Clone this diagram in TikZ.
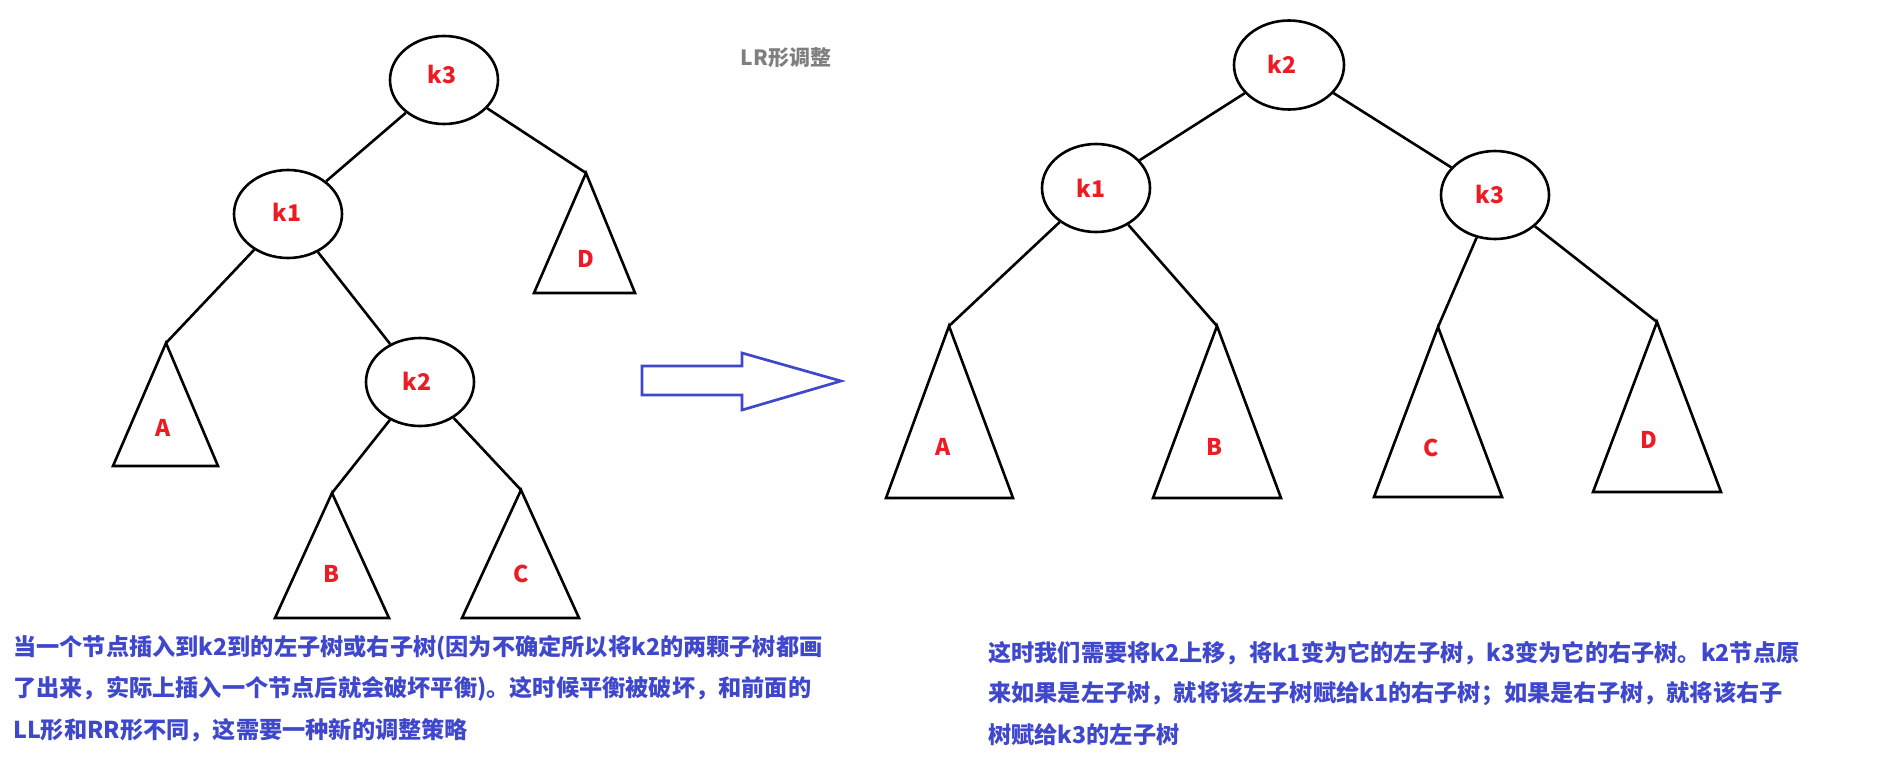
\documentclass[tikz,border=0pt]{standalone}
\usepackage{fontspec}
\usetikzlibrary{shapes.geometric}
\newfontfamily\cjk{Noto Sans CJK SC}
\definecolor{pred}{HTML}{ED1C24}
\definecolor{pblue}{HTML}{3F48CC}
\definecolor{pgray}{HTML}{7F7F7F}
\tikzset{
  tnode/.style={ellipse, draw=black, line width=2.6pt, minimum width=108pt, minimum height=88pt, inner sep=0pt},
  lab/.style={text=pred, inner sep=0pt, font=\cjk\bfseries\fontsize{23}{23}\selectfont},
  edge/.style={draw=black, line width=2.6pt},
  tri/.style={draw=black, line width=2.6pt, line join=miter},
  body/.style={text=pblue, anchor=west, inner sep=0pt, font=\cjk\bfseries\fontsize{23.2}{23.2}\selectfont},
}
\begin{document}
\begin{tikzpicture}[x=1pt,y=-1pt]
\useasboundingbox[fill=white] (0,0) rectangle (1897,773);

% ---------- left tree ----------
\node[tnode] (Lk3) at (444,80) {};
\node[lab] (Lk3t) at (442,74) {k3};
\node[tnode] (Lk1) at (288,214) {};
\node[lab] (Lk1t) at (287,212) {k1};
\node[tnode] (Lk2) at (420,382) {};
\node[lab] (Lk2t) at (417,381) {k2};

\coordinate (LAt) at (166,343);
\coordinate (LBt) at (332,493);
\coordinate (LCt) at (521,490);
\coordinate (LDt) at (586,173);

\draw[tri] (LAt) -- (113,466) -- (218,466) -- cycle;
\draw[tri] (LBt) -- (275,618) -- (389,618) -- cycle;
\draw[tri] (LCt) -- (462,618) -- (579,618) -- cycle;
\draw[tri] (LDt) -- (534,293) -- (635,293) -- cycle;

\node[lab] (LAl) at (163,428) {A};
\node[lab] (LBl) at (331,574) {B};
\node[lab] (LCl) at (521,574) {C};
\node[lab] (LDl) at (586,259) {D};

\draw[edge] (Lk3) -- (Lk1);
\draw[edge] (Lk3) -- (LDt);
\draw[edge] (Lk1) -- (LAt);
\draw[edge] (Lk1) -- (Lk2);
\draw[edge] (Lk2) -- (LBt);
\draw[edge] (Lk2) -- (LCt);

% ---------- title ----------
\node[text=pgray, inner sep=0pt, font=\cjk\bfseries\fontsize{21}{21}\selectfont] (title) at (786,58) {LR形调整};

% ---------- block arrow ----------
\draw[pblue, line width=2.7pt, line join=miter] (642,366) -- (742,366) -- (742,353) -- (841,381) -- (742,410) -- (742,395) -- (642,395) -- cycle;

% ---------- right tree ----------
\node[tnode, minimum width=110pt, minimum height=89pt] (Rk2) at (1289,65) {};
\node[lab] (Rk2t) at (1282,64) {k2};
\node[tnode] (Rk1) at (1096,188) {};
\node[lab] (Rk1t) at (1091,188) {k1};
\node[tnode] (Rk3) at (1495,195) {};
\node[lab] (Rk3t) at (1490,194) {k3};

\coordinate (RAt) at (949,326);
\coordinate (RBt) at (1217,326);
\coordinate (RCt) at (1438,327);
\coordinate (RDt) at (1657,322);

\draw[tri] (RAt) -- (886,498) -- (1013,498) -- cycle;
\draw[tri] (RBt) -- (1153,498) -- (1281,498) -- cycle;
\draw[tri] (RCt) -- (1374,497) -- (1502,497) -- cycle;
\draw[tri] (RDt) -- (1593,492) -- (1721,492) -- cycle;

\node[lab] (RAl) at (943,447) {A};
\node[lab] (RBl) at (1214,447) {B};
\node[lab] (RCl) at (1431,448) {C};
\node[lab] (RDl) at (1649,440) {D};

\draw[edge] (Rk2) -- (Rk1);
\draw[edge] (Rk2) -- (Rk3);
\draw[edge] (Rk1) -- (RAt);
\draw[edge] (Rk1) -- (RBt);
\draw[edge] (Rk3) -- (RCt);
\draw[edge] (Rk3) -- (RDt);

% ---------- texts ----------
\node[body] (l1) at (13,648) {当一个节点插入到k2到的左子树或右子树(因为不确定所以将k2的两颗子树都画};
\node[body] (l2) at (13,689) {了出来，实际上插入一个节点后就会破坏平衡)。这时候平衡被破坏，和前面的};
\node[body] (l3) at (13,730) {LL形和RR形不同，这需要一种新的调整策略};

\node[body] (r1) at (988,653) {这时我们需要将k2上移，将k1变为它的左子树，k3变为它的右子树。k2节点原};
\node[body] (r2) at (988,694) {来如果是左子树，就将该左子树赋给k1的右子树；如果是右子树，就将该右子};
\node[body] (r3) at (988,735) {树赋给k3的左子树};
\end{tikzpicture}
\end{document}
